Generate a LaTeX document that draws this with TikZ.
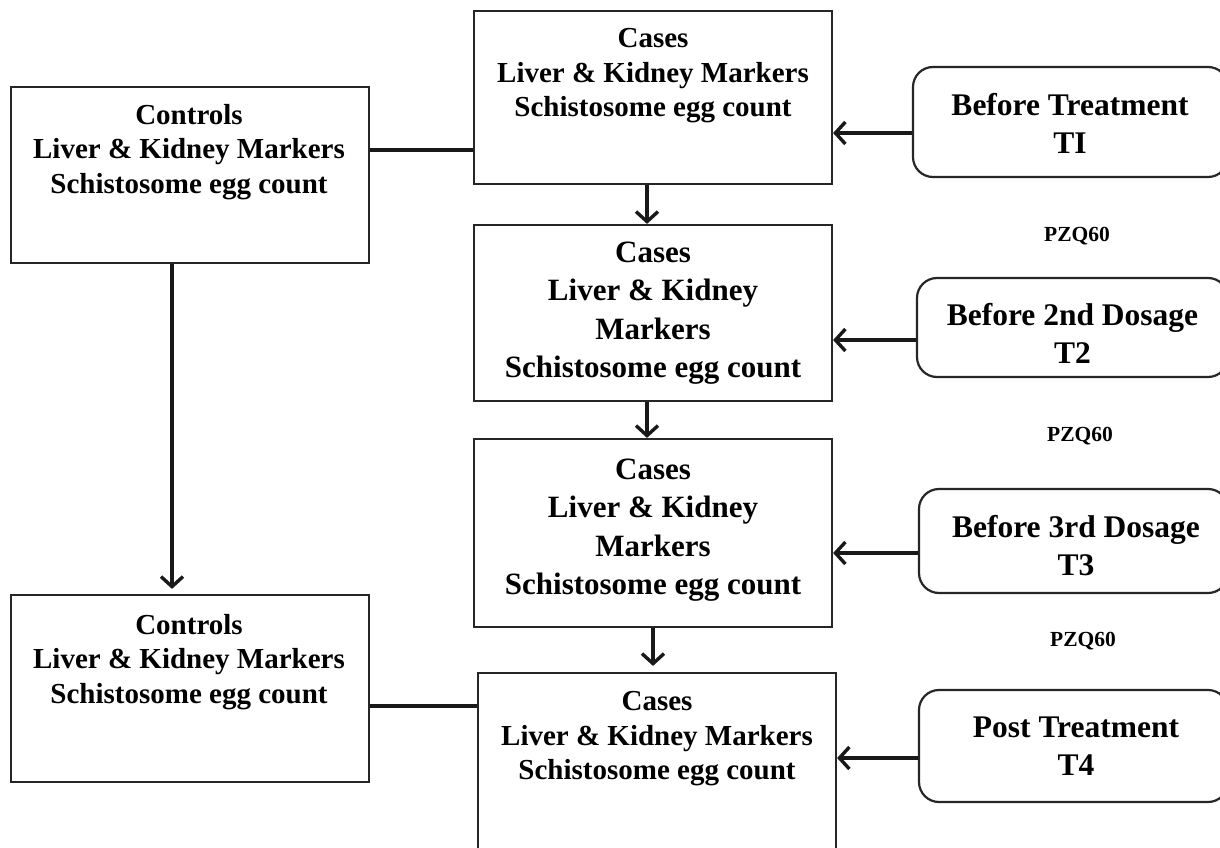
\documentclass[tikz,border=0pt]{standalone}
\usepackage{fontspec}
\setmainfont{Liberation Serif}
\usetikzlibrary{arrows.meta}
\begin{document}
\begin{tikzpicture}[x=1pt,y=-1pt,
  box/.style={draw=black!85,line width=2.2pt,minimum width=358pt,inner sep=0pt},
  tbox/.style={draw=black!85,line width=2.2pt,rounded corners=20pt,inner sep=0pt},
  txt/.style={align=center,font=\bfseries\fontsize{29}{34.5}\selectfont,inner sep=0pt},
  txtb/.style={align=center,font=\bfseries\fontsize{31}{38.5}\selectfont,inner sep=0pt},
  ttxt/.style={align=center,font=\bfseries\fontsize{31.5}{38}\selectfont,inner sep=0pt},
  ptxt/.style={font=\bfseries\fontsize{21.5}{24}\selectfont,inner sep=0pt},
  conn/.style={line width=3.4pt,black!90},
  arr/.style={conn,-{Straight Barb[length=10pt,width=22pt]}}
]
\useasboundingbox (0,0) rectangle (1220,848);
\fill[white] (0,0) rectangle (1220,848);

% boxes
\node[box,minimum height=176pt] (ctrlA) at (190,175) {};
\node[box,minimum height=187pt] (ctrlB) at (190,688.5) {};
\node[box,minimum height=173pt] (caseA) at (653,97.5) {};
\node[box,minimum height=176pt] (caseB) at (653,313) {};
\node[box,minimum height=188pt] (caseC) at (653,533) {};
\node[box,minimum height=197pt] (caseD) at (657,771.5) {};
\node[tbox,minimum width=315pt,minimum height=110pt] (tA) at (1070.5,122) {};
\node[tbox,minimum width=311pt,minimum height=99pt] (tB) at (1072.5,327.5) {};
\node[tbox,minimum width=309pt,minimum height=104pt] (tC) at (1073.5,541) {};
\node[tbox,minimum width=309pt,minimum height=112pt] (tD) at (1073.5,746) {};

% texts
\node[txt] (ctrlAt) at (189,152) {Controls\\Liver \& Kidney Markers\\Schistosome egg count};
\node[txt] (ctrlBt) at (189,662) {Controls\\Liver \& Kidney Markers\\Schistosome egg count};
\node[txt] (caseAt) at (653,76) {Cases\\Liver \& Kidney Markers\\Schistosome egg count};
\node[txtb] (caseBt) at (653,313) {Cases\\Liver \& Kidney\\Markers\\Schistosome egg count};
\node[txtb] (caseCt) at (653,530) {Cases\\Liver \& Kidney\\Markers\\Schistosome egg count};
\node[txt] (caseDt) at (657,739) {Cases\\Liver \& Kidney Markers\\Schistosome egg count};
\node[ttxt] (tAt) at (1070,123) {Before Treatment\\TI};
\node[ttxt] (tBt) at (1072.5,333) {Before 2nd Dosage\\T2};
\node[ttxt] (tCt) at (1076,546) {Before 3rd Dosage\\T3};
\node[ttxt] (tDt) at (1076,746) {Post Treatment\\T4};
\node[ptxt] (pA) at (1077,236) {PZQ60};
\node[ptxt] (pB) at (1080,436) {PZQ60};
\node[ptxt] (pC) at (1083,641) {PZQ60};

% connectors
\draw[conn] ([yshift=25pt]ctrlA.east) coordinate (c1) -- (c1 -| caseA.west);
\draw[conn] ([yshift=-17.5pt]ctrlB.east) coordinate (c2) -- (c2 -| caseD.west);
\draw[arr] ([xshift=-18pt]ctrlA.south) -- ([xshift=-18pt,yshift=5pt]ctrlB.north);
\draw[arr] ([yshift=-11pt]tA.west) coordinate (c3) -- (c3 -| caseA.east);
\draw[arr] ([yshift=-12.5pt]tB.west) coordinate (c4) -- (c4 -| caseB.east);
\draw[arr] ([yshift=-12pt]tC.west) coordinate (c5) -- (c5 -| caseC.east);
\draw[arr] ([yshift=-12pt]tD.west) coordinate (c6) -- (c6 -| caseD.east);
\draw[arr] ([xshift=-6pt]caseA.south) -- ([xshift=-6pt]caseB.north);
\draw[arr] ([xshift=-6pt]caseB.south) -- ([xshift=-6pt]caseC.north);
\draw[arr] ([xshift=0pt]caseC.south) -- ([xshift=-4pt,yshift=6pt]caseD.north);
\end{tikzpicture}
\end{document}
